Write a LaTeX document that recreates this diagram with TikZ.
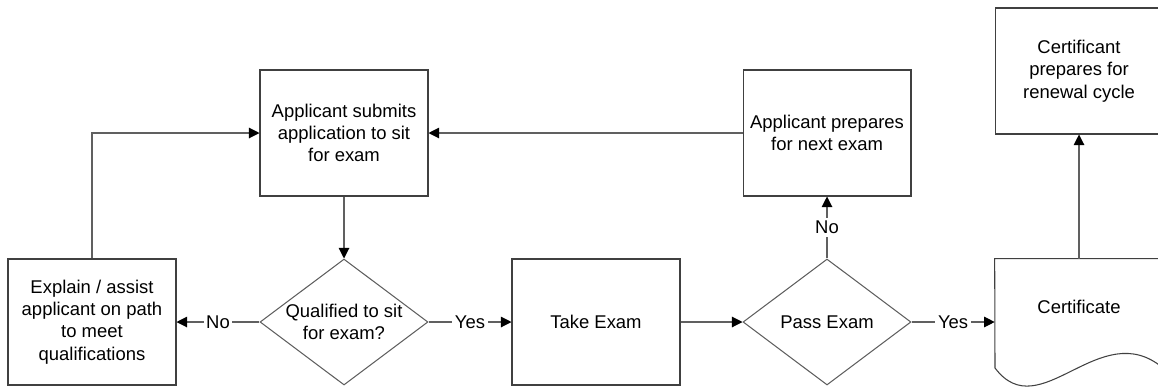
\documentclass[tikz,border=0pt]{standalone}
\usepackage{fontspec}
\setmainfont{Liberation Sans}
\usepackage{tikz}
\usetikzlibrary{arrows.meta,shapes.geometric}
\definecolor{boxline}{RGB}{64,64,64}
\definecolor{flowline}{RGB}{96,96,96}

\begin{document}
\begin{tikzpicture}[x=0.02cm, y=-0.02cm,
    every node/.style={font=\fontsize{10.5}{12.7}\selectfont},
    stepbox/.style={draw=boxline, line width=0.6pt, minimum width=3.36cm, minimum height=2.52cm, align=center, inner sep=2pt},
    decision/.style={diamond, draw=flowline, line width=0.6pt, minimum width=3.36cm, minimum height=2.52cm, inner sep=0pt},
    flow/.style={draw=flowline, line width=0.6pt, -{Triangle[length=6pt, width=6pt, color=black]}},
    answer/.style={fill=white, inner sep=1.5pt}]
    \useasboundingbox (0,0) rectangle (1158,386);
    % Boxes
    \node[stepbox] (submit) at (344,133) {Applicant submits\\application to sit\\for exam};
    \node[stepbox] (explain) at (92,322) {Explain / assist\\applicant on path\\to meet\\qualifications};
    \node[stepbox] (take) at (596,322) {Take Exam};
    \node[stepbox] (prep) at (827,133) {Applicant prepares\\for next exam};
    \node[stepbox] (renew) at (1079,71) {Certificant\\prepares for\\renewal cycle};
    % Decisions: empty diamonds, text set on top
    \node[decision] (qual) at (344,322) {};
    \node[align=center] (qual-text) at (qual) {Qualified to sit\\for exam?};
    \node[decision] (pass) at (827,322) {};
    \node (pass-text) at (pass) {Pass Exam};
    % Certificate: document shape with a wavy bottom
    \node[minimum width=3.36cm, minimum height=2.52cm, inner sep=0pt] (cert) at (1079,322) {};
    \node (cert-text) at (1079,307) {Certificate};
    \draw[boxline, line width=0.6pt] (1163,368) -- (cert.north east) -- (cert.north west) -- (995,368)
      .. controls (1040,428) and (1100,315) .. (1163,368);
    % Connectors
    \draw[flow] (prep.west) -- (submit.east);
    \draw[flow] (submit.south) -- (qual.north);
    \draw[flow] (qual.west) -- node[answer]{No} (explain.east);
    \draw[flow] (qual.east) -- node[answer]{Yes} (take.west);
    \draw[flow] (take.east) -- (pass.west);
    \draw[flow] (pass.north) -- node[answer]{No} (prep.south);
    \draw[flow] (pass.east) -- node[answer]{Yes} (cert.west);
    \draw[flow] (explain.north) |- (submit.west);
    \draw[flow] (cert.north) -- (renew.south);
  \end{tikzpicture}
\end{document}
